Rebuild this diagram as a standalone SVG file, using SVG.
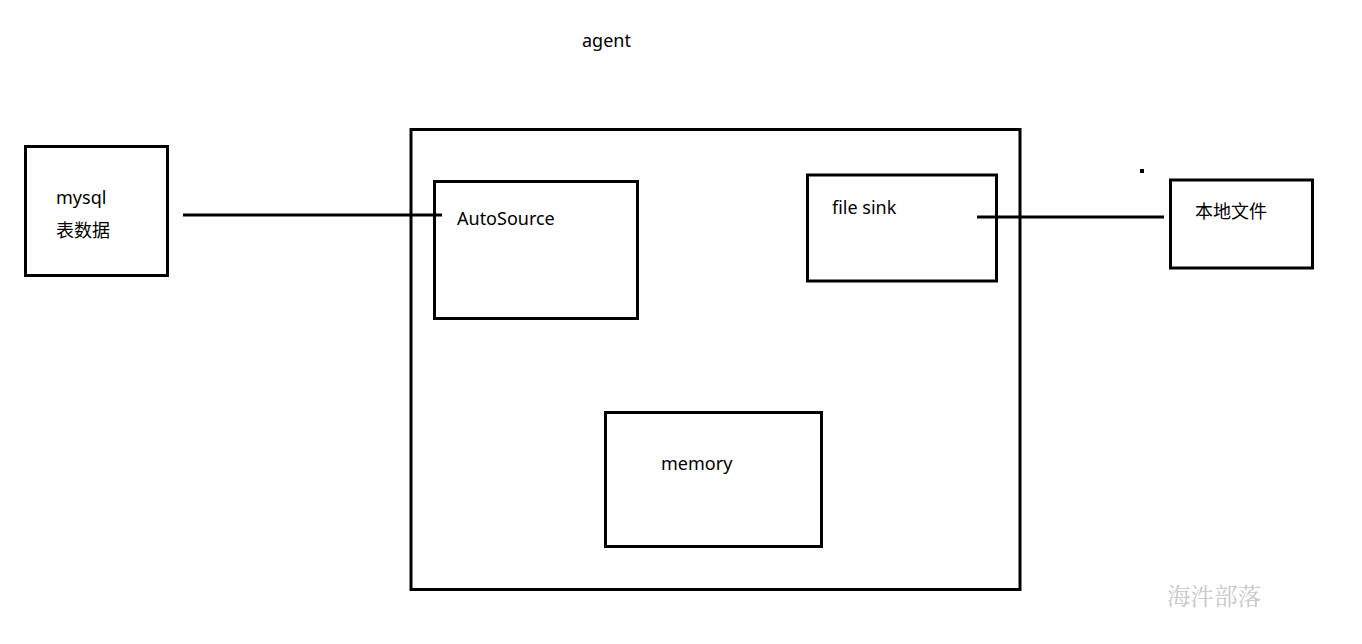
<svg xmlns="http://www.w3.org/2000/svg" width="1362" height="644" viewBox="0 0 1362 644">
<style>
.box{fill:none;stroke:#000;stroke-width:3}
.conn{stroke:#000;stroke-width:3;fill:none}
.t{font-family:"Noto Sans","Noto Sans CJK SC",sans-serif;font-size:18px;fill:#000}
.wm{font-family:"Liberation Serif","Noto Serif CJK SC","Noto Sans CJK SC",serif;font-size:23.5px;fill:#c8c8c8}
</style>
<rect width="1362" height="644" fill="#fff"/>
<text class="t" x="582" y="47">agent</text>
<g id="agent"><rect class="box" x="411" y="129.5" width="609" height="460"/></g>
<g id="mysql"><rect class="box" x="25.5" y="146.5" width="142" height="129"/>
<text class="t" x="56" y="204">mysql</text><text class="t" x="56" y="237">表数据</text></g>
<g id="autosource"><rect class="box" x="434.5" y="181.5" width="203" height="137"/>
<text class="t" x="457" y="225">AutoSource</text></g>
<g id="filesink"><rect class="box" x="807.5" y="175" width="189" height="106"/>
<text class="t" x="832" y="214">file sink</text></g>
<g id="memory"><rect class="box" x="605.5" y="412.5" width="216" height="134"/>
<text class="t" x="661" y="470">memory</text></g>
<g id="localfile"><rect class="box" x="1170.5" y="180" width="142" height="88"/>
<text class="t" x="1195" y="218">本地文件</text></g>
<g id="connectors">
<line class="conn" x1="183" y1="215" x2="442" y2="215"/>
<line class="conn" x1="977" y1="217" x2="1164" y2="217"/>
</g>
<rect x="1140" y="169" width="4" height="4" fill="#000"/>
<text class="wm" x="1167" y="605">海汼部落</text>
</svg>
